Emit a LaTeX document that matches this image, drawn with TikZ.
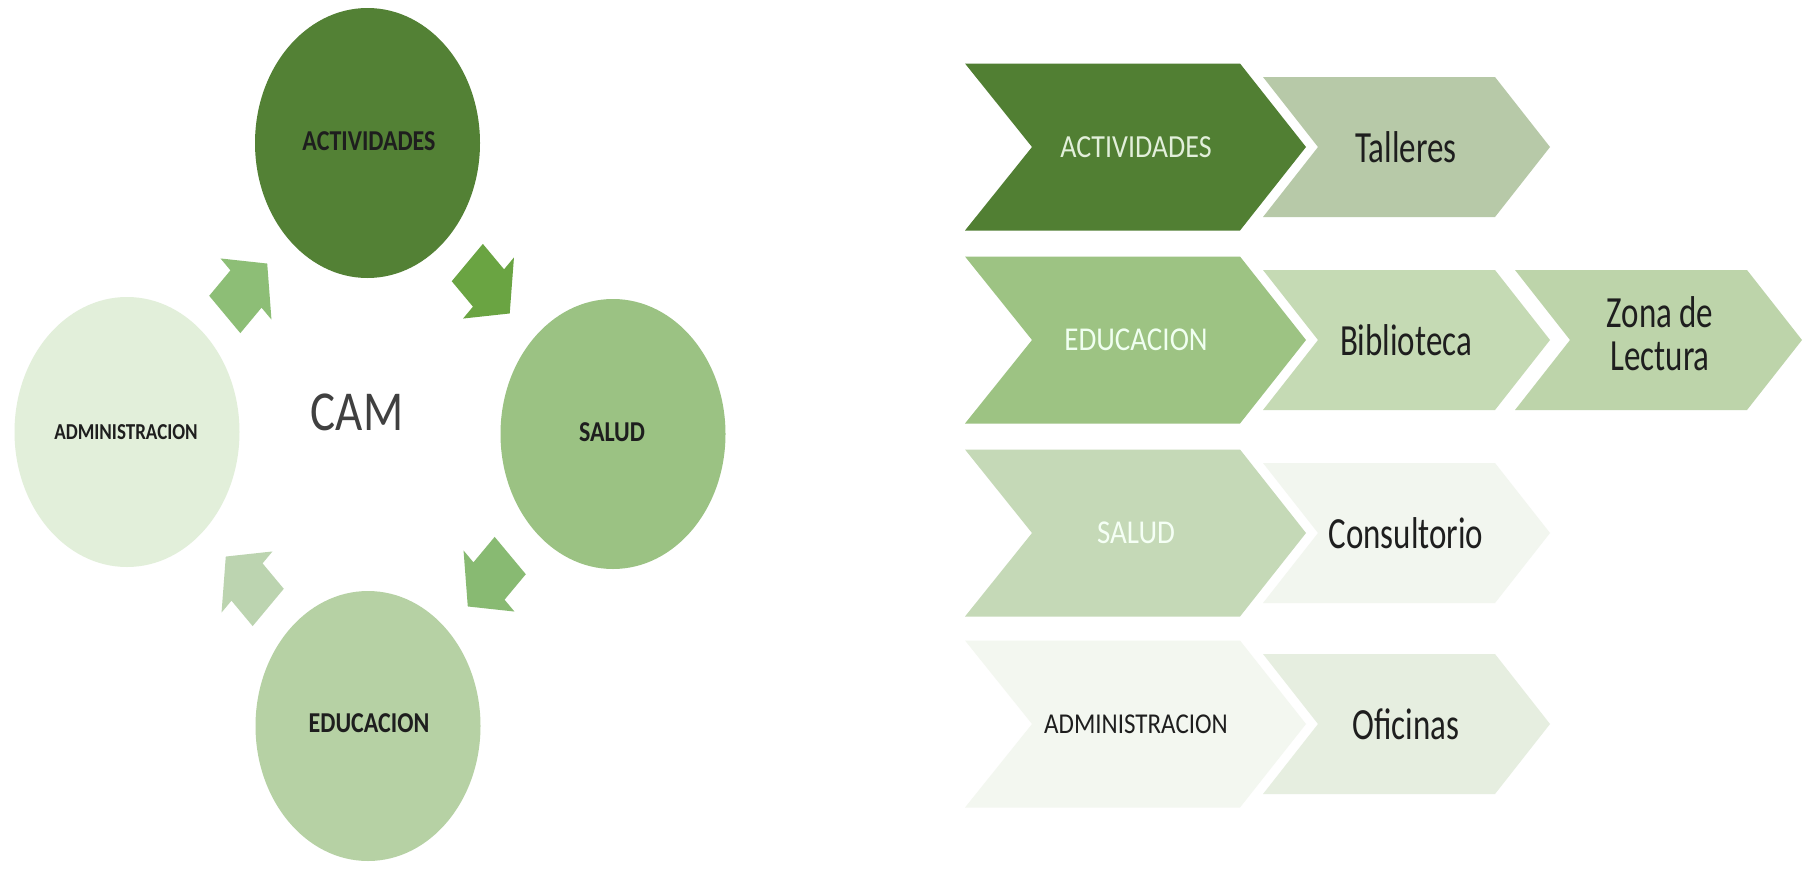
\documentclass[tikz,border=0pt]{standalone}
\usepackage{graphicx}
\usepackage{fontspec}
\setmainfont{Carlito}
\usetikzlibrary{shapes.geometric}

\definecolor{cAct}{HTML}{538135}
\definecolor{cSalud}{HTML}{9BC283}
\definecolor{cEdu}{HTML}{B6D1A4}
\definecolor{cAdm}{HTML}{E2EFDA}
\definecolor{aOne}{HTML}{6AA442}
\definecolor{aTwo}{HTML}{88BA72}
\definecolor{aThree}{HTML}{BCD4B0}
\definecolor{aFour}{HTML}{8DBE76}
\definecolor{chAct}{HTML}{517F33}
\definecolor{chTall}{HTML}{B7C9A8}
\definecolor{chEdu}{HTML}{9DC383}
\definecolor{chBib}{HTML}{C5DAB4}
\definecolor{chZona}{HTML}{BDD4AA}
\definecolor{chSalud}{HTML}{C5D9B7}
\definecolor{chCons}{HTML}{F2F6EF}
\definecolor{chAdm}{HTML}{F3F7F0}
\definecolor{chOfi}{HTML}{E6EEE0}
\definecolor{camGray}{HTML}{404040}
\definecolor{txtDark}{HTML}{1E1E1E}

\newcommand{\vs}[1]{\scalebox{1}[1.2]{#1}}
\newcommand{\vm}[1]{\scalebox{1}[1.15]{#1}}
\newcommand{\vr}[1]{\scalebox{1}[1.35]{#1}}
\newcommand{\mainchev}[2]{\fill[#2,shift={(0,#1)}] (965,-83.5) -- (1240,-83.5) -- (1306,0) -- (1240,83.5) -- (965,83.5) -- (1032,0) -- cycle;}
\newcommand{\subchev}[3]{\fill[#3,shift={(#1,#2)}] (0,-70) -- (232,-70) -- (287,0) -- (232,70) -- (0,70) -- (55,0) -- cycle;}
\newcommand{\blockarrow}[4]{\fill[#4,shift={(#1,#2)},yscale=1.2,rotate=#3] (-30,-22) -- (0,-22) -- (0,-36) -- (30,0) -- (0,36) -- (0,22) -- (-30,22) -- cycle;}

\tikzset{
  circ/.style={ellipse, draw=none, minimum width=225pt, minimum height=270pt, inner sep=0pt},
  clabel/.style={font=\bfseries\fontsize{24}{28}\selectfont, text=txtDark},
  mlabel/.style={font=\fontsize{28}{33}\selectfont, inner sep=0pt},
  slabel/.style={font=\fontsize{33}{32}\selectfont, text=txtDark, inner sep=0pt, align=center},
}

\begin{document}
\begin{tikzpicture}[x=1pt,y=-1pt]
\useasboundingbox (0,0) rectangle (1807,868);
\fill[white] (0,0) rectangle (1807,868);

% ---- cycle ----
\node[circ, fill=cAct] (act) at (367.5,143) {};
\node[circ, fill=cSalud] (salud) at (613,434) {};
\node[circ, fill=cEdu] (edu) at (368,726) {};
\node[circ, fill=cAdm] (adm) at (127,432) {};

\node[clabel] (actL) at (369,141) {\vs{ACTIVIDADES}};
\node[clabel] (saludL) at (612,432) {\vs{SALUD}};
\node[clabel] (eduL) at (369,723) {\vs{EDUCACION}};
\node[clabel, font=\bfseries\fontsize{19}{23}\selectfont] (admL) at (126,432) {\vs{ADMINISTRACION}};
\node[font=\fontsize{47}{56}\selectfont, text=camGray] (cam) at (357,412) {\vs{CAM}};

\blockarrow{488.5}{288}{-45}{aOne}
\blockarrow{489}{581}{-135}{aTwo}
\blockarrow{247}{582}{135}{aThree}
\blockarrow{246}{289}{45}{aFour}

% ---- chevrons ----
\subchev{1263}{147}{chTall}
\subchev{1515}{340}{chZona}
\subchev{1263}{340}{chBib}
\subchev{1263}{533}{chCons}
\subchev{1263}{724}{chOfi}
\mainchev{147}{chAct}
\mainchev{340}{chEdu}
\mainchev{533}{chSalud}
\mainchev{724}{chAdm}

\node[mlabel, text=cAdm] (rAct) at (1136,147) {\vm{ACTIVIDADES}};
\node[mlabel, text=white!94!green, font=\fontsize{29}{34}\selectfont] (rEdu) at (1136,340) {\vm{EDUCACION}};
\node[mlabel, text=white!96!green, font=\fontsize{29}{34}\selectfont] (rSalud) at (1136,533) {\vm{SALUD}};
\node[mlabel, text=txtDark, font=\fontsize{25}{30}\selectfont] (rAdm) at (1136,724) {\vm{ADMINISTRACION}};

\node[slabel] (tall) at (1406,147) {\vr{Talleres}};
\node[slabel] (bib) at (1406,340) {\vr{Biblioteca}};
\node[slabel] (zona) at (1660,340) {\vr{\begin{tabular}{@{}c@{}}Zona de\\Lectura\end{tabular}}};
\node[slabel] (cons) at (1406,533) {\vr{Consultorio}};
\node[slabel] (ofi) at (1406,724) {\vr{Oficinas}};
\end{tikzpicture}
\end{document}
